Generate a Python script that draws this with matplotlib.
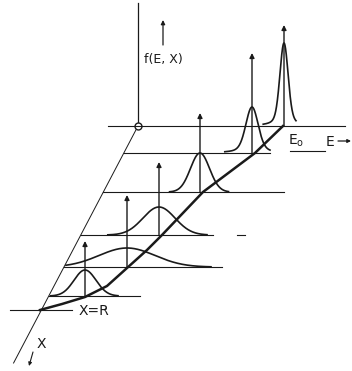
import numpy as np
import matplotlib.pyplot as plt

# oblique sketch, drawn in a pixel-like frame (x right, y down)
origin = (138, 126)
x_axis_slope = -0.525            # dx per dy of the receding X axis

# one slice per depth X: baseline row, peak energy, width, height, arrow top
slice_rows = [126, 153, 192, 235, 267, 296]
peak_pos = [284, 252, 200, 159, 127, 85]
peak_sigma = [4.0, 6.0, 9.5, 16.0, 28.0, 11.0]
peak_height = [83, 46, 39, 28, 19, 26]
arrow_tops = [25, 53, 113, 162, 195, 241]
line_ends = [345, 270, 284, 213, 222, 140]

# locus of the peaks (thick line), from X=R up to E0
locus_x = [40, 62, 85, 107, 127, 147, 162, 203, 255, 283]
locus_y = [310, 304, 297, 286, 268, 250, 235, 192, 153, 126]

fig = plt.figure(figsize=(3.52, 3.71), dpi=100)
ax = fig.add_axes([0, 0, 1, 1])
ax.set_xlim(0, 352)
ax.set_ylim(371, 0)
ax.axis('off')

ink = '#1a1a1a'

def x_on_axis(y):
    return origin[0] + x_axis_slope * (y - origin[1])

# f axis and receding X axis
ax.plot([origin[0], origin[0]], [3, origin[1]], color=ink, lw=0.9)
ax.plot([x_on_axis(origin[1]), x_on_axis(363)], [origin[1], 363], color=ink, lw=0.7)
ax.plot(origin[0], origin[1], 'o', ms=5, mfc='white', mec=ink, mew=1.0)

# baselines
for i, (row, end) in enumerate(zip(slice_rows, line_ends)):
    start = 108 if i == 0 else x_on_axis(row)
    ax.plot([start, end], [row, row], color=ink, lw=0.8)
ax.plot([10, 72], [310, 310], color=ink, lw=0.8)
ax.plot([290, 325], [151, 151], color=ink, lw=0.8)
ax.plot([237, 245], [235, 235], color=ink, lw=0.8)

# peaks
for row, c, s, h in zip(slice_rows, peak_pos, peak_sigma, peak_height):
    lo = max(c - 3.2 * s - (8 if s < 7 else 0), x_on_axis(row) + 2)
    e = np.linspace(lo, c + 3.0 * s, 300)
    if s < 7:
        prof = 0.75 * np.exp(-0.5 * ((e - c) / s) ** 2) + 0.25 / (1 + ((e - c) / (1.6 * s)) ** 2)
    else:
        prof = np.exp(-0.5 * ((e - c) / s) ** 2)
    ax.plot(e, row - h * prof, color=ink, lw=1.2)

# arrows at the peak positions
for row, c, top in zip(slice_rows, peak_pos, arrow_tops):
    ax.annotate('', xy=(c, top), xytext=(c, row),
                arrowprops=dict(arrowstyle='-|>', color=ink, lw=1.0,
                                mutation_scale=7, shrinkA=0, shrinkB=0))

ax.plot(locus_x, locus_y, color=ink, lw=1.8, solid_joinstyle='round')

# labels
ax.annotate('', xy=(163, 20), xytext=(163, 45),
            arrowprops=dict(arrowstyle='-|>', color=ink, lw=0.9,
                            mutation_scale=6, shrinkA=0, shrinkB=0))
ax.text(144, 59, 'f(E, X)', fontsize=9, color=ink, va='center', ha='left')
ax.text(288, 141, 'E$_\\mathregular{o}$', fontsize=10, color=ink, va='center', ha='left')
ax.text(326, 142, 'E', fontsize=10, color=ink, va='center', ha='left')
ax.annotate('', xy=(351, 141), xytext=(338, 141),
            arrowprops=dict(arrowstyle='-|>', color=ink, lw=0.9,
                            mutation_scale=5, shrinkA=0, shrinkB=0))
ax.text(79, 311, 'X=R', fontsize=10, color=ink, va='center', ha='left')
ax.text(41, 344, 'X', fontsize=10, color=ink, va='center', ha='center')
ax.annotate('', xy=(29, 366), xytext=(33, 352),
            arrowprops=dict(arrowstyle='-|>', color=ink, lw=0.8,
                            mutation_scale=5, shrinkA=0, shrinkB=0))

fig.savefig('out.png', dpi=100, facecolor='white')
